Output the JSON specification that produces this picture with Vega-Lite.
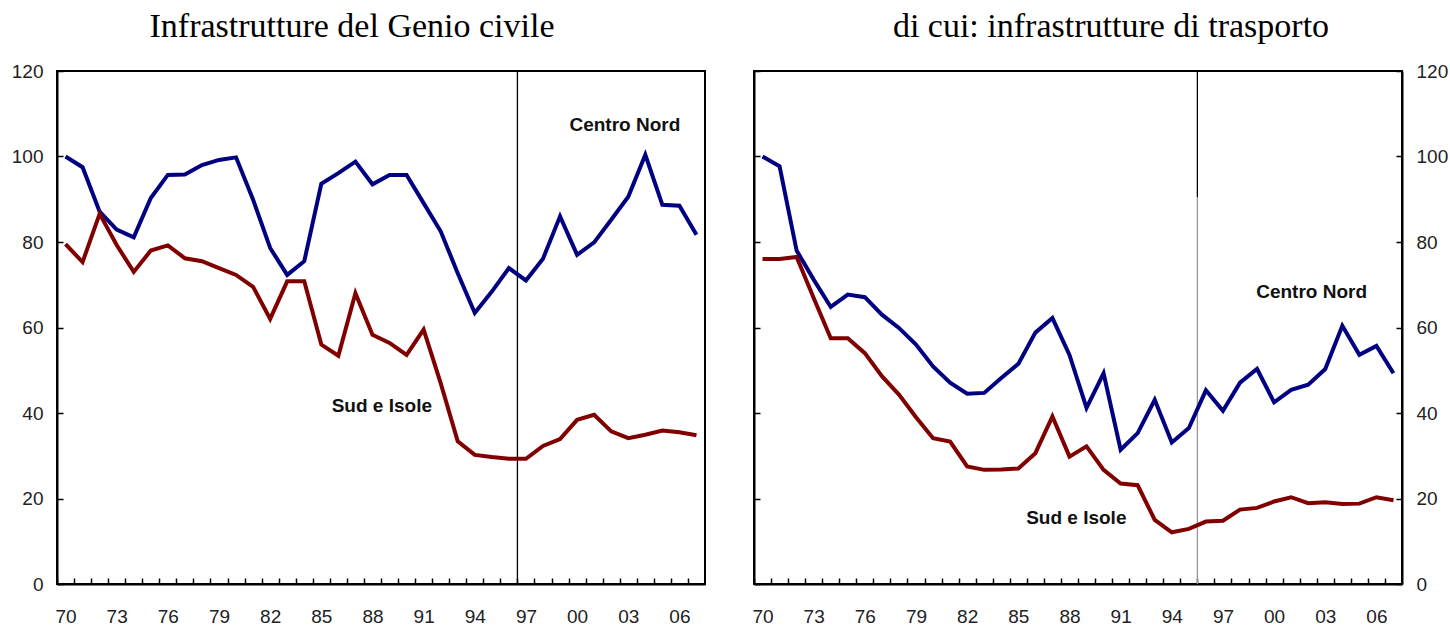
{
  "$schema": "https://vega.github.io/schema/vega-lite/v6.json",
  "background": "white",
  "padding": {"left": 10, "top": 9, "right": 5, "bottom": 0},
  "spacing": 44,
  "config": {
    "view": {"stroke": "black", "strokeWidth": 2},
    "axis": {"domainColor": "black", "domainWidth": 2, "tickColor": "black", "tickWidth": 1.5, "grid": false, "labelFont": "Liberation Sans", "labelFontSize": 19, "labelColor": "#222"},
    "title": {"font": "Liberation Serif", "fontSize": 34, "fontWeight": "normal", "color": "black"}
  },
  "datasets": {
    "series": [
      {"panel":"L","series":"Centro Nord","year":1970,"value":100},
      {"panel":"L","series":"Centro Nord","year":1971,"value":97.5},
      {"panel":"L","series":"Centro Nord","year":1972,"value":87.1},
      {"panel":"L","series":"Centro Nord","year":1973,"value":82.9},
      {"panel":"L","series":"Centro Nord","year":1974,"value":81.1},
      {"panel":"L","series":"Centro Nord","year":1975,"value":90.3},
      {"panel":"L","series":"Centro Nord","year":1976,"value":95.7},
      {"panel":"L","series":"Centro Nord","year":1977,"value":95.8},
      {"panel":"L","series":"Centro Nord","year":1978,"value":98},
      {"panel":"L","series":"Centro Nord","year":1979,"value":99.2},
      {"panel":"L","series":"Centro Nord","year":1980,"value":99.8},
      {"panel":"L","series":"Centro Nord","year":1981,"value":89.9},
      {"panel":"L","series":"Centro Nord","year":1982,"value":78.6},
      {"panel":"L","series":"Centro Nord","year":1983,"value":72.3},
      {"panel":"L","series":"Centro Nord","year":1984,"value":75.5},
      {"panel":"L","series":"Centro Nord","year":1985,"value":93.6},
      {"panel":"L","series":"Centro Nord","year":1986,"value":96.1},
      {"panel":"L","series":"Centro Nord","year":1987,"value":98.8},
      {"panel":"L","series":"Centro Nord","year":1988,"value":93.5},
      {"panel":"L","series":"Centro Nord","year":1989,"value":95.7},
      {"panel":"L","series":"Centro Nord","year":1990,"value":95.7},
      {"panel":"L","series":"Centro Nord","year":1991,"value":89.1},
      {"panel":"L","series":"Centro Nord","year":1992,"value":82.5},
      {"panel":"L","series":"Centro Nord","year":1993,"value":72.7},
      {"panel":"L","series":"Centro Nord","year":1994,"value":63.4},
      {"panel":"L","series":"Centro Nord","year":1995,"value":68.4},
      {"panel":"L","series":"Centro Nord","year":1996,"value":73.9},
      {"panel":"L","series":"Centro Nord","year":1997,"value":71.0},
      {"panel":"L","series":"Centro Nord","year":1998,"value":76.1},
      {"panel":"L","series":"Centro Nord","year":1999,"value":86.0},
      {"panel":"L","series":"Centro Nord","year":2000,"value":77.0},
      {"panel":"L","series":"Centro Nord","year":2001,"value":79.9},
      {"panel":"L","series":"Centro Nord","year":2002,"value":85.2},
      {"panel":"L","series":"Centro Nord","year":2003,"value":90.6},
      {"panel":"L","series":"Centro Nord","year":2004,"value":100.4},
      {"panel":"L","series":"Centro Nord","year":2005,"value":88.7},
      {"panel":"L","series":"Centro Nord","year":2006,"value":88.5},
      {"panel":"L","series":"Centro Nord","year":2007,"value":81.7},
      {"panel":"L","series":"Sud e Isole","year":1970,"value":79.5},
      {"panel":"L","series":"Sud e Isole","year":1971,"value":75.3},
      {"panel":"L","series":"Sud e Isole","year":1972,"value":86.6},
      {"panel":"L","series":"Sud e Isole","year":1973,"value":79.3},
      {"panel":"L","series":"Sud e Isole","year":1974,"value":73.0},
      {"panel":"L","series":"Sud e Isole","year":1975,"value":78.0},
      {"panel":"L","series":"Sud e Isole","year":1976,"value":79.2},
      {"panel":"L","series":"Sud e Isole","year":1977,"value":76.2},
      {"panel":"L","series":"Sud e Isole","year":1978,"value":75.5},
      {"panel":"L","series":"Sud e Isole","year":1979,"value":73.9},
      {"panel":"L","series":"Sud e Isole","year":1980,"value":72.3},
      {"panel":"L","series":"Sud e Isole","year":1981,"value":69.5},
      {"panel":"L","series":"Sud e Isole","year":1982,"value":62.0},
      {"panel":"L","series":"Sud e Isole","year":1983,"value":70.8},
      {"panel":"L","series":"Sud e Isole","year":1984,"value":70.8},
      {"panel":"L","series":"Sud e Isole","year":1985,"value":56.0},
      {"panel":"L","series":"Sud e Isole","year":1986,"value":53.4},
      {"panel":"L","series":"Sud e Isole","year":1987,"value":68.0},
      {"panel":"L","series":"Sud e Isole","year":1988,"value":58.3},
      {"panel":"L","series":"Sud e Isole","year":1989,"value":56.4},
      {"panel":"L","series":"Sud e Isole","year":1990,"value":53.6},
      {"panel":"L","series":"Sud e Isole","year":1991,"value":59.5},
      {"panel":"L","series":"Sud e Isole","year":1992,"value":47.0},
      {"panel":"L","series":"Sud e Isole","year":1993,"value":33.4},
      {"panel":"L","series":"Sud e Isole","year":1994,"value":30.2},
      {"panel":"L","series":"Sud e Isole","year":1995,"value":29.7},
      {"panel":"L","series":"Sud e Isole","year":1996,"value":29.3},
      {"panel":"L","series":"Sud e Isole","year":1997,"value":29.3},
      {"panel":"L","series":"Sud e Isole","year":1998,"value":32.3},
      {"panel":"L","series":"Sud e Isole","year":1999,"value":33.9},
      {"panel":"L","series":"Sud e Isole","year":2000,"value":38.4},
      {"panel":"L","series":"Sud e Isole","year":2001,"value":39.6},
      {"panel":"L","series":"Sud e Isole","year":2002,"value":35.7},
      {"panel":"L","series":"Sud e Isole","year":2003,"value":34.1},
      {"panel":"L","series":"Sud e Isole","year":2004,"value":34.9},
      {"panel":"L","series":"Sud e Isole","year":2005,"value":35.9},
      {"panel":"L","series":"Sud e Isole","year":2006,"value":35.5},
      {"panel":"L","series":"Sud e Isole","year":2007,"value":34.8},
      {"panel":"R","series":"Centro Nord","year":1970,"value":100},
      {"panel":"R","series":"Centro Nord","year":1971,"value":97.7},
      {"panel":"R","series":"Centro Nord","year":1972,"value":78.0},
      {"panel":"R","series":"Centro Nord","year":1973,"value":71.2},
      {"panel":"R","series":"Centro Nord","year":1974,"value":64.8},
      {"panel":"R","series":"Centro Nord","year":1975,"value":67.7},
      {"panel":"R","series":"Centro Nord","year":1976,"value":67.1},
      {"panel":"R","series":"Centro Nord","year":1977,"value":63.0},
      {"panel":"R","series":"Centro Nord","year":1978,"value":59.9},
      {"panel":"R","series":"Centro Nord","year":1979,"value":56.0},
      {"panel":"R","series":"Centro Nord","year":1980,"value":50.9},
      {"panel":"R","series":"Centro Nord","year":1981,"value":47.1},
      {"panel":"R","series":"Centro Nord","year":1982,"value":44.5},
      {"panel":"R","series":"Centro Nord","year":1983,"value":44.7},
      {"panel":"R","series":"Centro Nord","year":1984,"value":48.2},
      {"panel":"R","series":"Centro Nord","year":1985,"value":51.5},
      {"panel":"R","series":"Centro Nord","year":1986,"value":58.8},
      {"panel":"R","series":"Centro Nord","year":1987,"value":62.2},
      {"panel":"R","series":"Centro Nord","year":1988,"value":53.6},
      {"panel":"R","series":"Centro Nord","year":1989,"value":41.2},
      {"panel":"R","series":"Centro Nord","year":1990,"value":49.3},
      {"panel":"R","series":"Centro Nord","year":1991,"value":31.4},
      {"panel":"R","series":"Centro Nord","year":1992,"value":35.3},
      {"panel":"R","series":"Centro Nord","year":1993,"value":43.1},
      {"panel":"R","series":"Centro Nord","year":1994,"value":33.1},
      {"panel":"R","series":"Centro Nord","year":1995,"value":36.5},
      {"panel":"R","series":"Centro Nord","year":1996,"value":45.3},
      {"panel":"R","series":"Centro Nord","year":1997,"value":40.5},
      {"panel":"R","series":"Centro Nord","year":1998,"value":47.1},
      {"panel":"R","series":"Centro Nord","year":1999,"value":50.3},
      {"panel":"R","series":"Centro Nord","year":2000,"value":42.5},
      {"panel":"R","series":"Centro Nord","year":2001,"value":45.4},
      {"panel":"R","series":"Centro Nord","year":2002,"value":46.6},
      {"panel":"R","series":"Centro Nord","year":2003,"value":50.3},
      {"panel":"R","series":"Centro Nord","year":2004,"value":60.4},
      {"panel":"R","series":"Centro Nord","year":2005,"value":53.6},
      {"panel":"R","series":"Centro Nord","year":2006,"value":55.7},
      {"panel":"R","series":"Centro Nord","year":2007,"value":49.3},
      {"panel":"R","series":"Sud e Isole","year":1970,"value":76.0},
      {"panel":"R","series":"Sud e Isole","year":1971,"value":76.0},
      {"panel":"R","series":"Sud e Isole","year":1972,"value":76.5},
      {"panel":"R","series":"Sud e Isole","year":1973,"value":66.9},
      {"panel":"R","series":"Sud e Isole","year":1974,"value":57.5},
      {"panel":"R","series":"Sud e Isole","year":1975,"value":57.5},
      {"panel":"R","series":"Sud e Isole","year":1976,"value":54.0},
      {"panel":"R","series":"Sud e Isole","year":1977,"value":48.6},
      {"panel":"R","series":"Sud e Isole","year":1978,"value":44.3},
      {"panel":"R","series":"Sud e Isole","year":1979,"value":39.0},
      {"panel":"R","series":"Sud e Isole","year":1980,"value":34.1},
      {"panel":"R","series":"Sud e Isole","year":1981,"value":33.3},
      {"panel":"R","series":"Sud e Isole","year":1982,"value":27.5},
      {"panel":"R","series":"Sud e Isole","year":1983,"value":26.7},
      {"panel":"R","series":"Sud e Isole","year":1984,"value":26.8},
      {"panel":"R","series":"Sud e Isole","year":1985,"value":27.0},
      {"panel":"R","series":"Sud e Isole","year":1986,"value":30.6},
      {"panel":"R","series":"Sud e Isole","year":1987,"value":39.2},
      {"panel":"R","series":"Sud e Isole","year":1988,"value":29.8},
      {"panel":"R","series":"Sud e Isole","year":1989,"value":32.2},
      {"panel":"R","series":"Sud e Isole","year":1990,"value":26.7},
      {"panel":"R","series":"Sud e Isole","year":1991,"value":23.5},
      {"panel":"R","series":"Sud e Isole","year":1992,"value":23.1},
      {"panel":"R","series":"Sud e Isole","year":1993,"value":15.0},
      {"panel":"R","series":"Sud e Isole","year":1994,"value":12.1},
      {"panel":"R","series":"Sud e Isole","year":1995,"value":12.9},
      {"panel":"R","series":"Sud e Isole","year":1996,"value":14.6},
      {"panel":"R","series":"Sud e Isole","year":1997,"value":14.8},
      {"panel":"R","series":"Sud e Isole","year":1998,"value":17.4},
      {"panel":"R","series":"Sud e Isole","year":1999,"value":17.8},
      {"panel":"R","series":"Sud e Isole","year":2000,"value":19.3},
      {"panel":"R","series":"Sud e Isole","year":2001,"value":20.3},
      {"panel":"R","series":"Sud e Isole","year":2002,"value":18.9},
      {"panel":"R","series":"Sud e Isole","year":2003,"value":19.1},
      {"panel":"R","series":"Sud e Isole","year":2004,"value":18.7},
      {"panel":"R","series":"Sud e Isole","year":2005,"value":18.8},
      {"panel":"R","series":"Sud e Isole","year":2006,"value":20.3},
      {"panel":"R","series":"Sud e Isole","year":2007,"value":19.6}
    ],
    "labels": [
      {"panel":"L","label":"Centro Nord","year":2002.8,"value":107.4},
      {"panel":"L","label":"Sud e Isole","year":1988.55,"value":41.7},
      {"panel":"R","label":"Centro Nord","year":2002.2,"value":68.4},
      {"panel":"R","label":"Sud e Isole","year":1988.4,"value":15.5}
    ],
    "rules": [
      {"panel":"L","part":"full","year":1996.5,"value":0,"value2":120},
      {"panel":"R","part":"upper","year":1995.5,"value":90.5,"value2":120},
      {"panel":"R","part":"lower","year":1995.5,"value":0,"value2":90.5}
    ]
  },
  "hconcat": [
    {
      "width": 648,
      "height": 513,
      "title": {"text": "Infrastrutture del Genio civile", "frame": "group", "anchor": "middle", "dx": -29, "baseline": "alphabetic", "offset": -9},
      "encoding": {
        "x": {"field": "year", "type": "quantitative",
              "scale": {"domain": [1969.5, 2007.5], "nice": false, "zero": false},
              "axis": {"title": null, "values": [1970,1971,1972,1973,1974,1975,1976,1977,1978,1979,1980,1981,1982,1983,1984,1985,1986,1987,1988,1989,1990,1991,1992,1993,1994,1995,1996,1997,1998,1999,2000,2001,2002,2003,2004,2005,2006,2007],
                       "tickOffset": -8.53, "labelOffset": 8.53, "tickSize": -6, "labelPadding": 29,
                       "labelExpr": "(datum.value - 1970) % 3 === 0 ? slice(toString(datum.value), 2) : ''",
                       "labelOverlap": false, "labelFlush": false, "labelBound": false}},
        "y": {"field": "value", "type": "quantitative",
              "scale": {"domain": [0, 120], "nice": false},
              "axis": {"title": null, "values": [0,20,40,60,80,100,120], "tickSize": -6, "labelPadding": 20, "labelFlush": false, "labelBound": false, "labelOverlap": false}}
      },
      "layer": [
        {
          "data": {"name": "rules"},
          "transform": [{"filter": "datum.panel === 'L'"}],
          "mark": {"type": "rule", "strokeWidth": 1.3},
          "encoding": {
            "y2": {"field": "value2"},
            "color": {"field": "part", "type": "nominal", "scale": {"domain": ["full","upper","lower"], "range": ["black","black","#999999"]}, "legend": null}
          }
        },
        {
          "data": {"name": "series"},
          "transform": [{"filter": "datum.panel === 'L'"}],
          "mark": {"type": "line", "strokeWidth": 4},
          "encoding": {
            "color": {"field": "series", "type": "nominal", "scale": {"domain": ["Centro Nord","Sud e Isole"], "range": ["#000080","#800000"]}, "legend": null}
          }
        },
        {
          "data": {"name": "labels"},
          "transform": [{"filter": "datum.panel === 'L'"}],
          "mark": {"type": "text", "font": "Liberation Sans", "fontWeight": "bold", "fontSize": 19, "color": "#111111", "align": "center", "baseline": "middle"},
          "encoding": {"text": {"field": "label"}}
        }
      ],
      "resolve": {"scale": {"color": "independent"}}
    },
    {
      "width": 648,
      "height": 513,
      "title": {"text": "di cui: infrastrutture di trasporto", "frame": "group", "anchor": "middle", "dx": 33, "baseline": "alphabetic", "offset": -9},
      "encoding": {
        "x": {"field": "year", "type": "quantitative",
              "scale": {"domain": [1969.5, 2007.5], "nice": false, "zero": false},
              "axis": {"title": null, "values": [1970,1971,1972,1973,1974,1975,1976,1977,1978,1979,1980,1981,1982,1983,1984,1985,1986,1987,1988,1989,1990,1991,1992,1993,1994,1995,1996,1997,1998,1999,2000,2001,2002,2003,2004,2005,2006,2007],
                       "tickOffset": -8.53, "labelOffset": 8.53, "tickSize": -6, "labelPadding": 29,
                       "labelExpr": "(datum.value - 1970) % 3 === 0 ? slice(toString(datum.value), 2) : ''",
                       "labelOverlap": false, "labelFlush": false, "labelBound": false}}
      },
      "layer": [
        {
          "data": {"name": "rules"},
          "transform": [{"filter": "datum.panel === 'R'"}],
          "mark": {"type": "rule", "strokeWidth": 1.3},
          "encoding": {
            "y": {"field": "value", "type": "quantitative", "scale": {"domain": [0, 120], "nice": false},
                  "axis": {"title": null, "orient": "left", "labels": false, "values": [0,20,40,60,80,100,120], "tickSize": -6}},
            "y2": {"field": "value2"},
            "color": {"field": "part", "type": "nominal", "scale": {"domain": ["full","upper","lower"], "range": ["black","black","#999999"]}, "legend": null}
          }
        },
        {
          "data": {"name": "series"},
          "transform": [{"filter": "datum.panel === 'R'"}],
          "mark": {"type": "line", "strokeWidth": 4},
          "encoding": {
            "y": {"field": "value", "type": "quantitative", "scale": {"domain": [0, 120], "nice": false},
                  "axis": {"title": null, "orient": "right", "values": [0,20,40,60,80,100,120], "tickSize": -6, "labelPadding": 20, "labelFlush": false, "labelBound": false, "labelOverlap": false}},
            "color": {"field": "series", "type": "nominal", "scale": {"domain": ["Centro Nord","Sud e Isole"], "range": ["#000080","#800000"]}, "legend": null}
          }
        },
        {
          "data": {"name": "labels"},
          "transform": [{"filter": "datum.panel === 'R'"}],
          "mark": {"type": "text", "font": "Liberation Sans", "fontWeight": "bold", "fontSize": 19, "color": "#111111", "align": "center", "baseline": "middle"},
          "encoding": {
            "y": {"field": "value", "type": "quantitative", "scale": {"domain": [0, 120], "nice": false}, "axis": null},
            "text": {"field": "label"}
          }
        }
      ],
      "resolve": {"scale": {"color": "independent"}, "axis": {"y": "independent"}}
    }
  ]
}
